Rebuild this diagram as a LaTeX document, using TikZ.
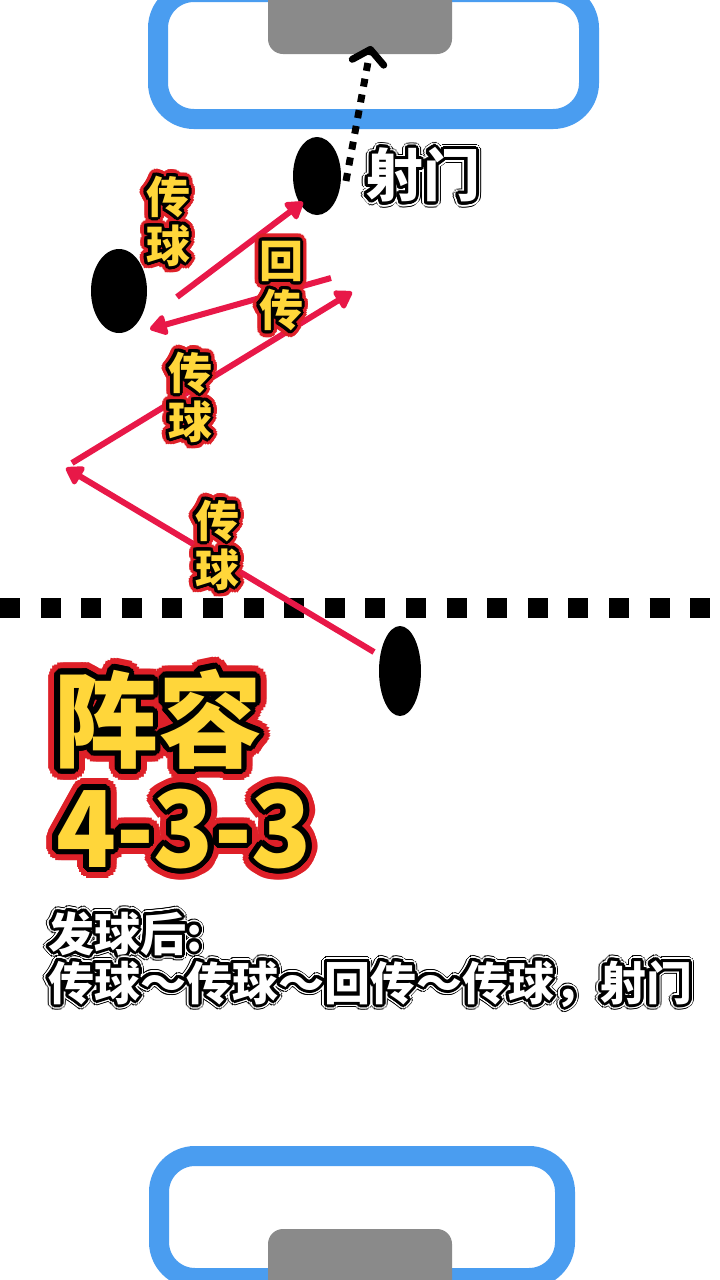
\documentclass[tikz,border=0pt]{standalone}
\usepackage{fontspec}
\newfontfamily\cjk{Noto Sans CJK SC}
\newfontfamily\cjknarrow{Noto Sans CJK SC}[FakeStretch=0.93]
\usetikzlibrary{arrows.meta,shapes.geometric,calc}
\definecolor{fieldblue}{RGB}{74,157,240}
\definecolor{goalgray}{RGB}{138,138,138}
\definecolor{passred}{RGB}{232,24,72}
\definecolor{lblyellow}{RGB}{255,214,58}
\definecolor{lblred}{RGB}{222,32,40}
\newcommand\ringtext[7]{%
  \foreach \ang [count=\k] in {0,15,...,345}{%
    \node[inner sep=0pt, anchor=#3, font=#4, align=center, text=#6] (#1-\k) at ($(#2)+(\ang:#7pt)$) {#5};
  }%
}
\newcommand\fancylabel[7]{%
  \ringtext{#1r}{#2}{#3}{#4}{#5}{lblred}{#7}%
  \ringtext{#1k}{#2}{#3}{#4}{#5}{black}{#6}%
  \node[inner sep=0pt, anchor=#3, font=#4, align=center, text=lblyellow] (#1) at (#2) {#5};
}
\newcommand\whitelabel[5]{%
  \ringtext{#1o}{#2}{#3}{#4}{#5}{black}{5.5}%
  \ringtext{#1w}{#2}{#3}{#4}{#5}{white}{4.5}%
  \ringtext{#1k}{#2}{#3}{#4}{#5}{black}{3}%
  \node[inner sep=0pt, anchor=#3, font=#4, align=center, text=white] (#1) at (#2) {#5};
}
\tikzset{
  player/.style={ellipse, fill=black, inner sep=0pt},
  pass/.style={draw=passred, line width=6pt, -{Triangle[length=19pt,width=23pt,round]}},
  shot/.style={draw=black, line width=7pt, dash pattern=on 8pt off 8pt, -{Straight Barb[length=13pt,width=32pt,round]}},
  fieldbox/.style={draw=fieldblue, line width=20pt, rounded corners=36pt},
  goal/.style={fill=goalgray, rounded corners=15pt},
}
\begin{document}
\begin{tikzpicture}[x=1pt,y=-1pt]
\useasboundingbox (0,0) rectangle (720,1280);
\fill[white] (0,0) rectangle (720,1280);
\clip (0,0) rectangle (720,1280);
% field boxes
\draw[fieldbox] (158,-8) rectangle (589,119);
\fill[goal] (268,-30) rectangle (452,54);
\draw[fieldbox] (159,1156) rectangle (565,1278);
\fill[goal] (268,1229) rectangle (452,1320);
% center line
\coordinate (cl1) at (0,608);
\coordinate (cl2) at (730,608);
\draw[line width=20pt, dash pattern=on 20pt off 20.6pt] (cl1) -- (cl2);
% players
\node[player, minimum width=48pt, minimum height=78pt] (p1) at (317,176) {};
\node[player, minimum width=56pt, minimum height=84pt] (p2) at (119,291) {};
\node[player, minimum width=42pt, minimum height=90pt] (p3) at (400,671) {};
% arrow end points
\coordinate (aS) at (374,652); \coordinate (aT) at (66,468);
\coordinate (bS) at (72,463);  \coordinate (bT) at (352,292);
\coordinate (cS) at (331,278); \coordinate (cT) at (150,329);
\coordinate (dS) at (177,297); \coordinate (dT) at (303,202);
\coordinate (sS) at (346,181); \coordinate (sT) at (371,46);
\draw[pass] (aS) -- (aT);
\draw[pass] (bS) -- (bT);
\draw[pass] (cS) -- (cT);
\draw[pass] (dS) -- (dT);
\draw[shot] (sS) -- (sT);
% labels
\coordinate (l1) at (168,221);
\coordinate (l2) at (281,286);
\coordinate (l3) at (190,397);
\coordinate (l4) at (217,545);
\coordinate (l5) at (423,175);
\coordinate (l6) at (54,759);
\coordinate (l7) at (56,867);
\coordinate (l8) at (48,951);
\coordinate (l9) at (48,1000);
\fancylabel{lab1}{l1}{center}{\cjk\bfseries\fontsize{44}{49}\selectfont}{传\\球}{3}{6.8}
\fancylabel{lab2}{l2}{center}{\cjk\bfseries\fontsize{44}{49}\selectfont}{回\\传}{3}{6.8}
\fancylabel{lab3}{l3}{center}{\cjk\bfseries\fontsize{44}{49}\selectfont}{传\\球}{3}{6.8}
\fancylabel{lab4}{l4}{center}{\cjk\bfseries\fontsize{44}{49}\selectfont}{传\\球}{3}{6.8}
\whitelabel{lab5}{l5}{center}{\cjk\bfseries\fontsize{57}{60}\selectfont}{射门}
\fancylabel{lab6}{l6}{base west}{\cjk\bfseries\fontsize{104}{110}\selectfont}{阵容}{5.5}{11.5}
\fancylabel{lab7}{l7}{base west}{\cjknarrow\bfseries\fontsize{106}{110}\selectfont}{4-3-3}{5.5}{11.5}
\whitelabel{lab8}{l8}{base west}{\cjk\bfseries\fontsize{46}{48}\selectfont}{发球后:}
\whitelabel{lab9}{l9}{base west}{\cjk\bfseries\fontsize{46}{48}\selectfont}{传球～传球～回传～传球，射门}
\end{tikzpicture}
\end{document}
